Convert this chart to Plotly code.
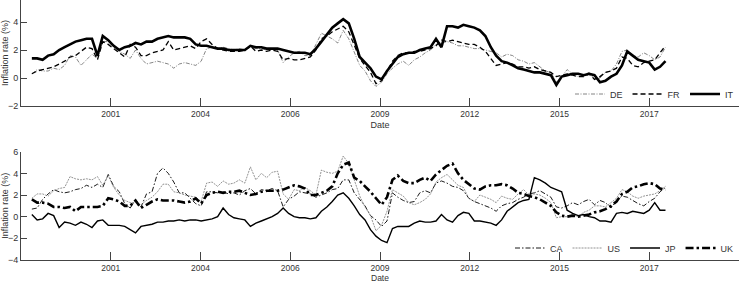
import datetime as dt
import pandas as pd
import plotly.graph_objects as go
from plotly.subplots import make_subplots

# ---- data: inflation rates (%), every two months from Jan 1999 ----
dates = pd.date_range("1999-01-01", periods=117, freq="2MS")

DE = [0.3, 0.6, 0.5, 0.5, 0.7, 0.6,
      0.9, 1.6, 1.5, 0.9, 1.3, 1.7,
      1.4, 2.6, 2.6, 2.2, 1.9, 1.7,
      1.4, 2.0, 1.4, 1.0, 1.1, 1.2,
      1.1, 1.0, 0.7, 1.0, 1.1, 1.0,
      0.9, 1.2, 2.1, 2.2, 2.1, 2.2,
      2.1, 2.0, 2.1, 2.0, 2.2, 2.1,
      2.1, 2.0, 2.1, 2.0, 1.1, 1.5,
      1.8, 1.9, 1.6, 1.6, 2.4, 3.2,
      3.0, 2.8, 2.5, 3.4, 2.8, 1.9,
      0.9, 0.5, -0.2, -0.6, -0.3, 0.3,
      0.7, 1.0, 1.2, 0.9, 1.3, 1.5,
      1.8, 2.0, 2.4, 2.5, 2.6, 2.5,
      2.3, 2.3, 2.2, 2.1, 2.1, 2.0,
      1.9, 1.8, 1.5, 1.7, 1.6, 1.3,
      1.2, 1.0, 1.1, 0.8, 0.5, 0.4,
      -0.3, 0.1, 0.6, 0.3, 0.1, 0.2,
      0.4, -0.1, 0.0, 0.4, 0.5, 1.0,
      1.9, 2.0, 1.6, 1.5, 1.8, 1.6,
      1.3, 1.5, 2.2]

FR = [0.3, 0.5, 0.6, 0.7, 0.8, 1.0,
      1.2, 1.5, 1.6, 1.9, 2.2, 2.1,
      1.3, 2.6, 2.4, 2.1, 1.8, 1.5,
      2.4, 2.2, 1.6, 1.6, 1.8, 1.9,
      2.0, 2.6, 2.0, 2.1, 2.2, 2.3,
      2.1, 2.6, 2.8, 2.4, 2.1, 2.0,
      1.9, 1.9, 1.9, 2.0, 2.3, 1.9,
      2.0, 1.9, 2.0, 1.9, 1.3, 1.4,
      1.3, 1.3, 1.4, 1.5, 2.0, 2.8,
      3.0, 3.3, 3.5, 3.7, 3.3, 2.4,
      1.4, 0.9, 0.4, -0.4, -0.2, 0.5,
      1.2, 1.6, 1.8, 1.8, 1.9, 1.9,
      2.0, 2.1, 2.3, 2.7, 2.6, 2.7,
      2.6, 2.5, 2.4, 2.4, 2.2, 1.9,
      1.4, 0.9, 1.0, 1.1, 1.0, 0.8,
      0.8, 0.7, 0.8, 0.6, 0.5, 0.4,
      0.1, 0.2, 0.3, 0.2, 0.1, 0.1,
      0.3, -0.1, 0.1, 0.4, 0.5, 0.7,
      1.5, 1.4, 0.9, 0.8, 1.1, 1.2,
      1.3, 1.8, 2.3]

IT = [1.4, 1.4, 1.3, 1.6, 1.7, 2.0,
      2.2, 2.4, 2.6, 2.7, 2.8, 2.8,
      1.6, 3.0, 2.7, 2.3, 2.0, 2.2,
      2.3, 2.5, 2.4, 2.6, 2.6, 2.8,
      2.9, 3.0, 2.9, 2.9, 2.9, 2.8,
      2.4, 2.3, 2.3, 2.2, 2.1, 2.1,
      2.0, 2.0, 2.0, 2.0, 2.3, 2.2,
      2.2, 2.1, 2.1, 2.1, 2.0, 1.9,
      1.8, 1.8, 1.8, 1.7, 2.1, 2.6,
      3.1, 3.6, 3.9, 4.2, 3.9, 2.8,
      1.5, 1.1, 0.7, 0.1, -0.1, 0.5,
      1.0, 1.5, 1.7, 1.8, 1.8, 2.0,
      2.1, 2.2, 2.8, 2.2, 3.7, 3.7,
      3.6, 3.8, 3.7, 3.6, 3.4, 3.0,
      2.2, 1.6, 1.2, 1.1, 0.9, 0.7,
      0.6, 0.5, 0.4, 0.4, 0.3, 0.2,
      -0.5, 0.1, 0.2, 0.3, 0.3, 0.2,
      0.3, 0.2, -0.3, -0.2, 0.1, 0.3,
      0.9, 1.9, 1.6, 1.3, 1.2, 1.1,
      0.6, 0.8, 1.2]

CA = [0.7, 0.8, 1.6, 2.1, 2.5, 2.3,
      2.2, 2.3, 2.5, 2.6, 2.9, 2.7,
      3.0, 2.7, 3.9, 2.8, 2.3, 1.2,
      0.8, 1.6, 0.9, 2.1, 2.3, 4.0,
      4.5, 4.0, 3.2, 2.2, 2.2, 1.7,
      1.2, 1.0, 2.3, 2.3, 2.2, 2.3,
      2.1, 2.2, 2.0, 2.4, 2.6, 2.1,
      2.5, 2.4, 2.6, 2.4, 0.9, 1.6,
      1.9, 2.3, 2.2, 2.1, 1.8, 2.0,
      2.2, 2.5, 2.6, 3.4, 3.4, 2.2,
      1.6, 1.0, 0.1, -0.3, -0.9, -0.4,
      2.2, 1.8, 1.5, 1.3, 1.4, 2.2,
      2.4, 2.2, 3.1, 3.3, 3.1, 2.8,
      2.7, 2.4, 1.7, 1.4, 1.2, 1.0,
      0.8, 0.5, 1.0, 1.2, 1.3, 1.6,
      1.8, 2.1, 2.2, 2.4, 2.1, 1.8,
      0.9, 0.8, 1.0, 1.3, 1.1, 1.4,
      1.6, 1.1, 1.5, 1.3, 0.8, 1.5,
      1.9, 1.8, 1.5, 1.2, 1.0, 1.4,
      1.7, 2.3, 2.7]

US = [1.7, 2.1, 2.1, 1.9, 2.4, 2.6,
      2.7, 3.7, 3.5, 3.4, 3.5, 3.4,
      3.7, 2.9, 3.8, 2.7, 2.0, 1.5,
      1.3, 1.3, 1.1, 1.5, 1.8, 2.3,
      3.0, 3.0, 2.3, 2.2, 2.0, 1.9,
      1.8, 1.4, 3.1, 3.2, 2.8, 3.3,
      3.0, 3.1, 3.4, 3.1, 4.6, 3.4,
      4.0, 3.6, 4.1, 4.2, 2.1, 1.6,
      2.5, 2.4, 2.7, 2.4, 2.0, 4.3,
      4.1, 4.0, 4.2, 5.6, 4.9, 3.4,
      1.9, 0.9, 0.1, -1.3, -0.8, 0.5,
      2.5, 2.2, 1.9, 1.3, 1.1, 1.3,
      1.6, 2.1, 3.2, 3.6, 3.9, 3.4,
      2.9, 2.7, 1.7, 1.4, 2.0, 1.8,
      1.6, 1.3, 1.9, 1.7, 1.6, 2.1,
      2.5, 2.0, 2.1, 2.0, 1.7, 1.3,
      -0.1, 0.0, 0.0, 0.2, 0.0, 0.4,
      0.6, 1.0, 1.0, 0.9, 1.3, 1.7,
      2.5, 2.3, 1.9, 1.7, 1.9, 2.0,
      2.1, 2.4, 2.8]

JP = [0.2, -0.3, -0.2, 0.3, 0.1, -1.0,
      -0.5, -0.6, -0.8, -0.5, -0.7, -1.0,
      -0.4, -0.3, -0.8, -0.8, -0.8, -0.9,
      -1.2, -1.5, -0.9, -0.8, -0.7, -0.5,
      -0.5, -0.4, -0.4, -0.3, -0.4, -0.3,
      -0.3, -0.4, -0.3, -0.2, 0.0, 0.8,
      0.2, -0.1, -0.2, -0.3, -0.9, -0.6,
      -0.4, -0.2, 0.0, 0.3, 0.8, 0.3,
      0.0, -0.1, -0.1, -0.2, -0.1, 0.5,
      0.9, 1.4, 2.0, 2.2, 1.7, 1.0,
      0.2, -0.3, -1.2, -1.8, -2.2, -2.4,
      -1.1, -0.9, -0.9, -0.9, -0.6, -0.4,
      -0.5, -0.5, -0.4, 0.2, -0.3, -0.5,
      0.1, 0.4, 0.3, -0.4, -0.4, -0.5,
      -0.6, -0.8, -0.3, 0.5, 0.9, 1.3,
      1.5, 1.6, 3.6, 3.4, 3.1, 2.7,
      2.5, 2.3, 0.6, 0.3, 0.1, 0.2,
      0.0, -0.1, -0.4, -0.4, -0.5, 0.3,
      0.4, 0.3, 0.5, 0.4, 0.3, 0.6,
      1.3, 0.6, 0.6]

UK = [1.6, 1.3, 1.3, 1.2, 0.9, 0.9,
      0.8, 0.9, 0.5, 0.9, 0.9, 0.9,
      0.9, 1.0, 1.7, 1.6, 1.4, 1.0,
      1.0, 1.5, 0.8, 1.1, 1.4, 1.6,
      1.5, 1.5, 1.5, 1.4, 1.3, 1.4,
      1.7, 1.2, 2.0, 2.2, 2.3, 2.2,
      2.3, 2.3, 2.4, 2.2, 2.0, 2.1,
      2.3, 2.4, 2.4, 2.4, 2.5, 2.7,
      2.9, 2.8, 2.6, 2.0, 2.0, 2.2,
      2.4, 2.8, 4.0, 4.8, 5.0, 3.6,
      3.3, 2.8, 2.3, 1.7, 1.1, 1.8,
      3.4, 3.8, 3.3, 3.1, 3.1, 3.4,
      3.6, 3.3, 3.9, 4.3, 4.7, 4.9,
      4.0, 3.4, 3.0, 2.6, 2.5, 2.8,
      2.9, 2.9, 3.0, 2.9, 2.6, 2.2,
      2.1, 1.9, 1.8, 1.6, 1.3, 1.0,
      0.4, 0.1, 0.0, 0.1, 0.0, 0.1,
      0.2, 0.4, 0.5, 0.7, 1.0, 1.4,
      2.1, 2.3, 2.7, 2.8, 3.0, 3.1,
      3.0, 2.6, 2.5]

tick_labels = ["2001", "2004", "2006", "2009", "2012", "2015", "2017", ""]

# ---- axis geometry (serial-day ticks every 1000 days) ----
origin = dt.date(1998, 9, 2)
x_range = [origin.isoformat(), (origin + dt.timedelta(days=8000)).isoformat()]
tick_vals = [(origin + dt.timedelta(days=1000 * (k + 1))).isoformat()
             for k in range(len(tick_labels))]

FONT = "Liberation Sans, Arial, sans-serif"
AX = "#444444"
TXT = "#333333"
PH = 260  # plot-area height in px (284 - bottom margin)

fig = make_subplots(rows=2, cols=1, vertical_spacing=0.0)

top = [("DE", DE, dict(color="#666666", width=0.8, dash="4px,1.5px,1px,1.5px")),
       ("FR", FR, dict(color="black", width=1.3, dash="5px,3px")),
       ("IT", IT, dict(color="black", width=2.6, dash="solid"))]
bot = [("CA", CA, dict(color="black", width=0.9, dash="5px,2px,1.5px,2px")),
       ("US", US, dict(color="#777777", width=0.8, dash="2px,1px")),
       ("JP", JP, dict(color="black", width=1.4, dash="solid")),
       ("UK", UK, dict(color="black", width=2.6, dash="8px,3px,2.5px,3px"))]

for name, vals, ln in top:
    fig.add_trace(go.Scatter(x=dates, y=vals, name=name, mode="lines", line=ln,
                             legend="legend"), row=1, col=1)
for name, vals, ln in bot:
    fig.add_trace(go.Scatter(x=dates, y=vals, name=name, mode="lines", line=ln,
                             legend="legend2"), row=2, col=1)

xcommon = dict(type="date", range=x_range, tickmode="array", tickvals=tick_vals,
               ticktext=tick_labels, ticks="inside", ticklen=8, tickcolor=AX,
               showline=True, linecolor=AX, linewidth=1, showgrid=False,
               zeroline=False, mirror=False,
               tickfont=dict(family=FONT, size=8.5, color=TXT))
ycommon = dict(ticks="inside", ticklen=6, tickcolor=AX, showline=True,
               linecolor=AX, linewidth=1, showgrid=False, zeroline=False,
               tickfont=dict(family=FONT, size=9, color=TXT),
               title=dict(text="Inflation rate (%)",
                          font=dict(family=FONT, size=9, color=TXT), standoff=2))

fig.update_xaxes(**xcommon)
fig.update_yaxes(**ycommon)
fig.update_layout(
    xaxis=dict(domain=[0, 1],
               title=dict(text="Date", standoff=3,
                          font=dict(family=FONT, size=9, color=TXT))),
    xaxis2=dict(domain=[0, 1]),
    yaxis=dict(domain=[(PH - 106) / PH, 1], range=[-2, 5.571], tickvals=[-2, 0, 2, 4]),
    yaxis2=dict(domain=[0, (PH - 151.7) / PH], range=[-4, 6],
                tickvals=[-4, -2, 0, 2, 4, 6]),
)

# bottom axis title sits at the lower edge of the figure
fig.add_annotation(text="Date", xref="x2 domain", x=0.5, yref="paper",
                   y=-24.5 / PH, yanchor="bottom", xanchor="center",
                   showarrow=False, font=dict(family=FONT, size=8.5, color=TXT))

legend_common = dict(orientation="h", xanchor="right", yanchor="middle",
                     bgcolor="rgba(0,0,0,0)", borderwidth=0,
                     font=dict(family=FONT, size=9, color=TXT),
                     itemwidth=30, tracegroupgap=0, itemclick=False)
fig.update_layout(
    legend=dict(x=1.0, y=(PH - 94) / PH, **legend_common),
    legend2=dict(x=1.0, y=(PH - 248) / PH, **legend_common),
)

fig.update_layout(
    width=743, height=284,
    margin=dict(l=21, r=4, t=0, b=284 - PH, autoexpand=False),
    paper_bgcolor="white", plot_bgcolor="white",
    font=dict(family=FONT, size=9, color=TXT),
    showlegend=True,
)

fig.write_html("out.html")
